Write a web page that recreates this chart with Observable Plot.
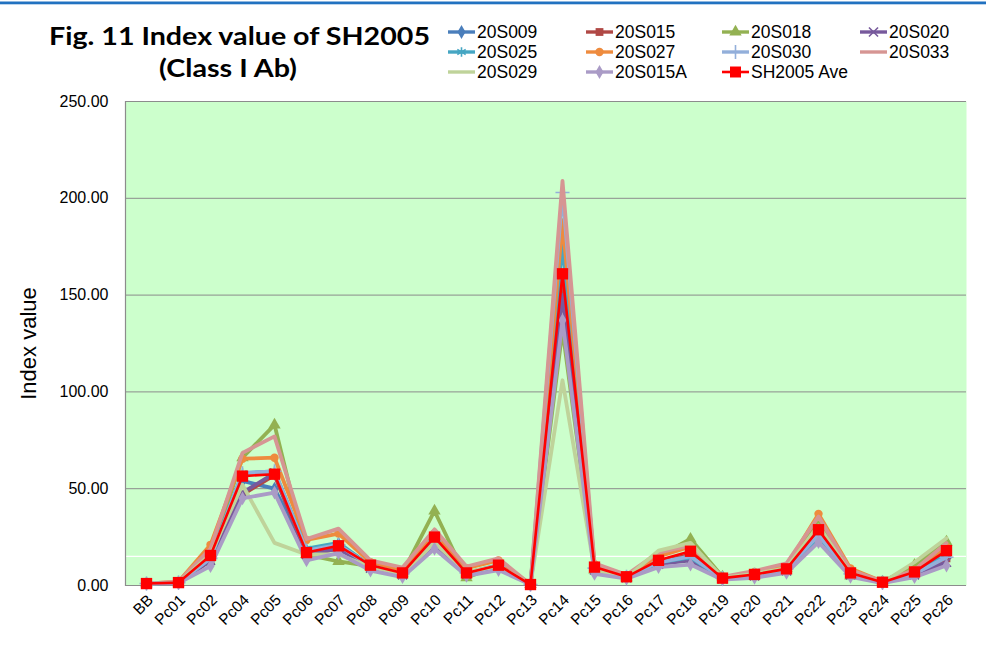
<!DOCTYPE html>
<html><head><meta charset="utf-8">
<script src="https://cdn.jsdelivr.net/npm/d3@7"></script>
<script src="https://cdn.jsdelivr.net/npm/@observablehq/plot@0.6"></script>
<style>
body{margin:0;background:#fff;}
#wrap{position:relative;width:986px;height:656px;overflow:hidden;font-family:Arial,"Liberation Sans",sans-serif;color:#000;}
#chart{position:absolute;left:0;top:0;}
#head{position:absolute;left:0;top:0;}
</style></head><body>
<div id="wrap"><div id="chart"></div><svg id="head" width="986" height="92"></svg></div>
<script>
const categories = ["BB","Pc01","Pc02","Pc04","Pc05","Pc06","Pc07","Pc08","Pc09","Pc10","Pc11","Pc12","Pc13","Pc14","Pc15","Pc16","Pc17","Pc18","Pc19","Pc20","Pc21","Pc22","Pc23","Pc24","Pc25","Pc26"];

const s20S009  = [1.0,1.5,14,54,50,18,21.5,10,6,23,6.5,10,0.5,160,9,4.5,12,14,3.8,5.5,8,26,6,1.5,6,16.5];
const s20S015  = [1.0,1.5,13,47,57,16,19,9.5,6,22,6,10,0.5,152,8.5,4,12,16,3.5,5.5,8,27,6,1.5,6.5,14];
const s20S018  = [1.0,1.5,16,66,83,16,12.4,10,6.5,38.5,4,10.5,0.5,132,8,4,15,24,4.5,5.5,9,34,5,1.8,10.5,22.5];
const s20S020  = [1.0,1.5,13,48,58,16,19,9,5.5,21,6,9.5,0.5,150,8,4,11,13,3.5,5,7.5,24,5.5,1.5,5.5,12];
const s20S025  = [1.0,1.5,15,58,59,19,22,10,6,24,6.5,10.5,0.5,176,9,4,12,14.5,3.5,5.5,8,25,6,1.5,6.5,16];
const s20S027  = [1.0,2,21,65.5,66,23.5,26.8,12,8,27,9,13,0.5,187.5,11,5,15,20,4,7,10,37,8.8,2,8,20];
const s20S030  = [1.0,1.5,14,58,59,18,21,10,6,23,6.5,10,0.5,203,9,4.5,12,15,3.8,5.5,8.5,26,6,1.5,6,14.6];
const s20S033  = [1.0,2,19,68.5,77,24,29.4,13,9.3,29,9.8,14,0.5,209,11.5,5.5,17,20.7,4.5,7.5,11.5,35.6,8,2,8,22];
const s20S029  = [1.0,1.5,16,52,22,16,16,9.5,6,22,7,10,0.5,106,8,4,18,22,4,6,9,31,6,1.5,12,24.4];
const s20S015A = [1.0,1.2,10,45,48,13,16.7,7.7,4.3,19,5,8,0.5,137,6,3.5,9.5,10.8,3,4,6.5,22.4,4.5,1.2,4.3,10.3];
const sAve     = [1.0,1.5,15.5,56.5,57.5,17,20.5,10.5,6.5,25,6.5,10.5,0.5,161,9.5,4.5,13,17.7,3.8,5.7,8.6,28.8,6.5,1.7,7,18];

const seriesNames = ["20S009","20S015","20S018","20S020","20S025","20S027","20S030","20S033","20S029","20S015A","SH2005 Ave"];
const seriesValues = [s20S009,s20S015,s20S018,s20S020,s20S025,s20S027,s20S030,s20S033,s20S029,s20S015A,sAve];
const seriesColors = ["#4A7EBB","#B04845","#93B152","#77599C","#46A6C3","#EE8B3E","#93AFDA","#D69593","#BFD39A","#AA9BC6","#FF0000"];
const seriesSymbols = ["diamond","square","triangle","times","asterisk","circle","plus",null,null,"diamond","square"];
const yTicks = [0,50,100,150,200,250];
const whiteRule = [15];
const yLabel = ["Index value"];

const rows = [];
seriesNames.forEach((name, si) => seriesValues[si].forEach((v, i) => rows.push({series: name, cat: categories[i], value: v})));

const strokeSyms = new Set(["times","asterisk","plus"]);
const symR = {diamond:4.2, square:4.4, triangle:4.6, times:4.2, asterisk:4.6, circle:4.2, plus:4.6};

const marks = [
  Plot.frame({fill:"#CCFFCC", stroke:null}),
  Plot.ruleY(whiteRule, {y: d => d, stroke:"#ffffff", strokeWidth:1.3}),
  Plot.gridY(yTicks.filter(d => d > 0), {stroke:"#8C8C8C", strokeOpacity:1, strokeWidth:1}),
  Plot.ruleY([0], {stroke:"#8C8C8C", strokeWidth:1.2}),
  Plot.frame({anchor:"left", stroke:"#8C8C8C", strokeWidth:1.2}),
  Plot.axisY(yTicks, {tickSize:0, tickPadding:17, tickFormat: d => d.toFixed(2), fontSize:16, label:null}),
  Plot.axisX({tickSize:0, tickPadding:12, tickRotate:-45, fontSize:15.5, label:null, dx:4}),
  Plot.text(yLabel, {frameAnchor:"left", textAnchor:"middle", rotate:-90, dx:-97, fontSize:22, text: d => d})
];

seriesNames.forEach((name, si) => {
  const data = rows.filter(r => r.series === name);
  const isAve = si === seriesNames.length - 1;
  const color = seriesColors[si];
  marks.push(Plot.line(data, {x:"cat", y:"value", stroke: color, strokeWidth: isAve ? 2.6 : 3.8, strokeLinejoin:"round"}));
  const sym = seriesSymbols[si];
  if (sym) {
    if (strokeSyms.has(sym)) {
      marks.push(Plot.dot(data, {x:"cat", y:"value", symbol: sym, r: symR[sym], stroke: color, strokeWidth:1.6, fill:"none"}));
    } else {
      marks.push(Plot.dot(data, {x:"cat", y:"value", symbol: sym, r: isAve ? 6.4 : symR[sym], fill: color, stroke: "none"}));
    }
  }
});

const chart = Plot.plot({
  width: 986, height: 656,
  marginTop: 101, marginBottom: 71, marginLeft: 125, marginRight: 20,
  style: {fontFamily: "Arial, 'Liberation Sans', sans-serif", color: "#000", background: "transparent"},
  x: {type:"point", domain: categories, padding: 0.5},
  y: {domain:[0,250]},
  marks
});
document.getElementById("chart").appendChild(chart);

// Header: top bar, title and legend
const head = d3.select("#head");
head.append("rect").attr("x",0).attr("y",1.5).attr("width",986).attr("height",2.8).attr("fill","#2171C0");
head.append("text").attr("x",239.5).attr("y",45).attr("text-anchor","middle")
  .attr("font-family","Lato, 'Open Sans', sans-serif").attr("font-weight","bold").attr("font-size",25)
  .attr("textLength",381).attr("lengthAdjust","spacingAndGlyphs").text("Fig. 11 Index value of SH2005");
head.append("text").attr("x",228).attr("y",77).attr("text-anchor","middle")
  .attr("font-family","Lato, 'Open Sans', sans-serif").attr("font-weight","bold").attr("font-size",25)
  .attr("textLength",138).attr("lengthAdjust","spacingAndGlyphs").text("(Class I Ab)");

const legCols = [448, 586, 722, 860];
const legRows = [32, 52, 72];
const d3sym = {diamond: d3.symbolDiamond, square: d3.symbolSquare, triangle: d3.symbolTriangle, times: d3.symbolTimes, asterisk: d3.symbolAsterisk, circle: d3.symbolCircle, plus: d3.symbolPlus};
seriesNames.forEach((name, si) => {
  const cx = legCols[si % 4], cy = legRows[Math.floor(si / 4)];
  const color = seriesColors[si];
  const g = head.append("g");
  g.append("line").attr("x1",cx).attr("x2",cx+27).attr("y1",cy).attr("y2",cy).attr("stroke",color).attr("stroke-width", si === 10 ? 2.6 : 3.4);
  const sym = seriesSymbols[si];
  if (sym) {
    const isAve = si === 10;
    const r = isAve ? 6.2 : symR[sym];
    const p = d3.symbol(d3sym[sym], Math.PI * r * r)();
    const path = g.append("path").attr("d", p).attr("transform", `translate(${cx+13.5},${cy})`);
    if (strokeSyms.has(sym)) path.attr("fill","none").attr("stroke",color).attr("stroke-width",1.6);
    else path.attr("fill",color);
  }
  g.append("text").attr("x",cx+29).attr("y",cy).attr("dy","0.36em").attr("font-size",17.5)
    .attr("font-family","Arial, 'Liberation Sans', sans-serif").text(name);
});
</script>
</body></html>
